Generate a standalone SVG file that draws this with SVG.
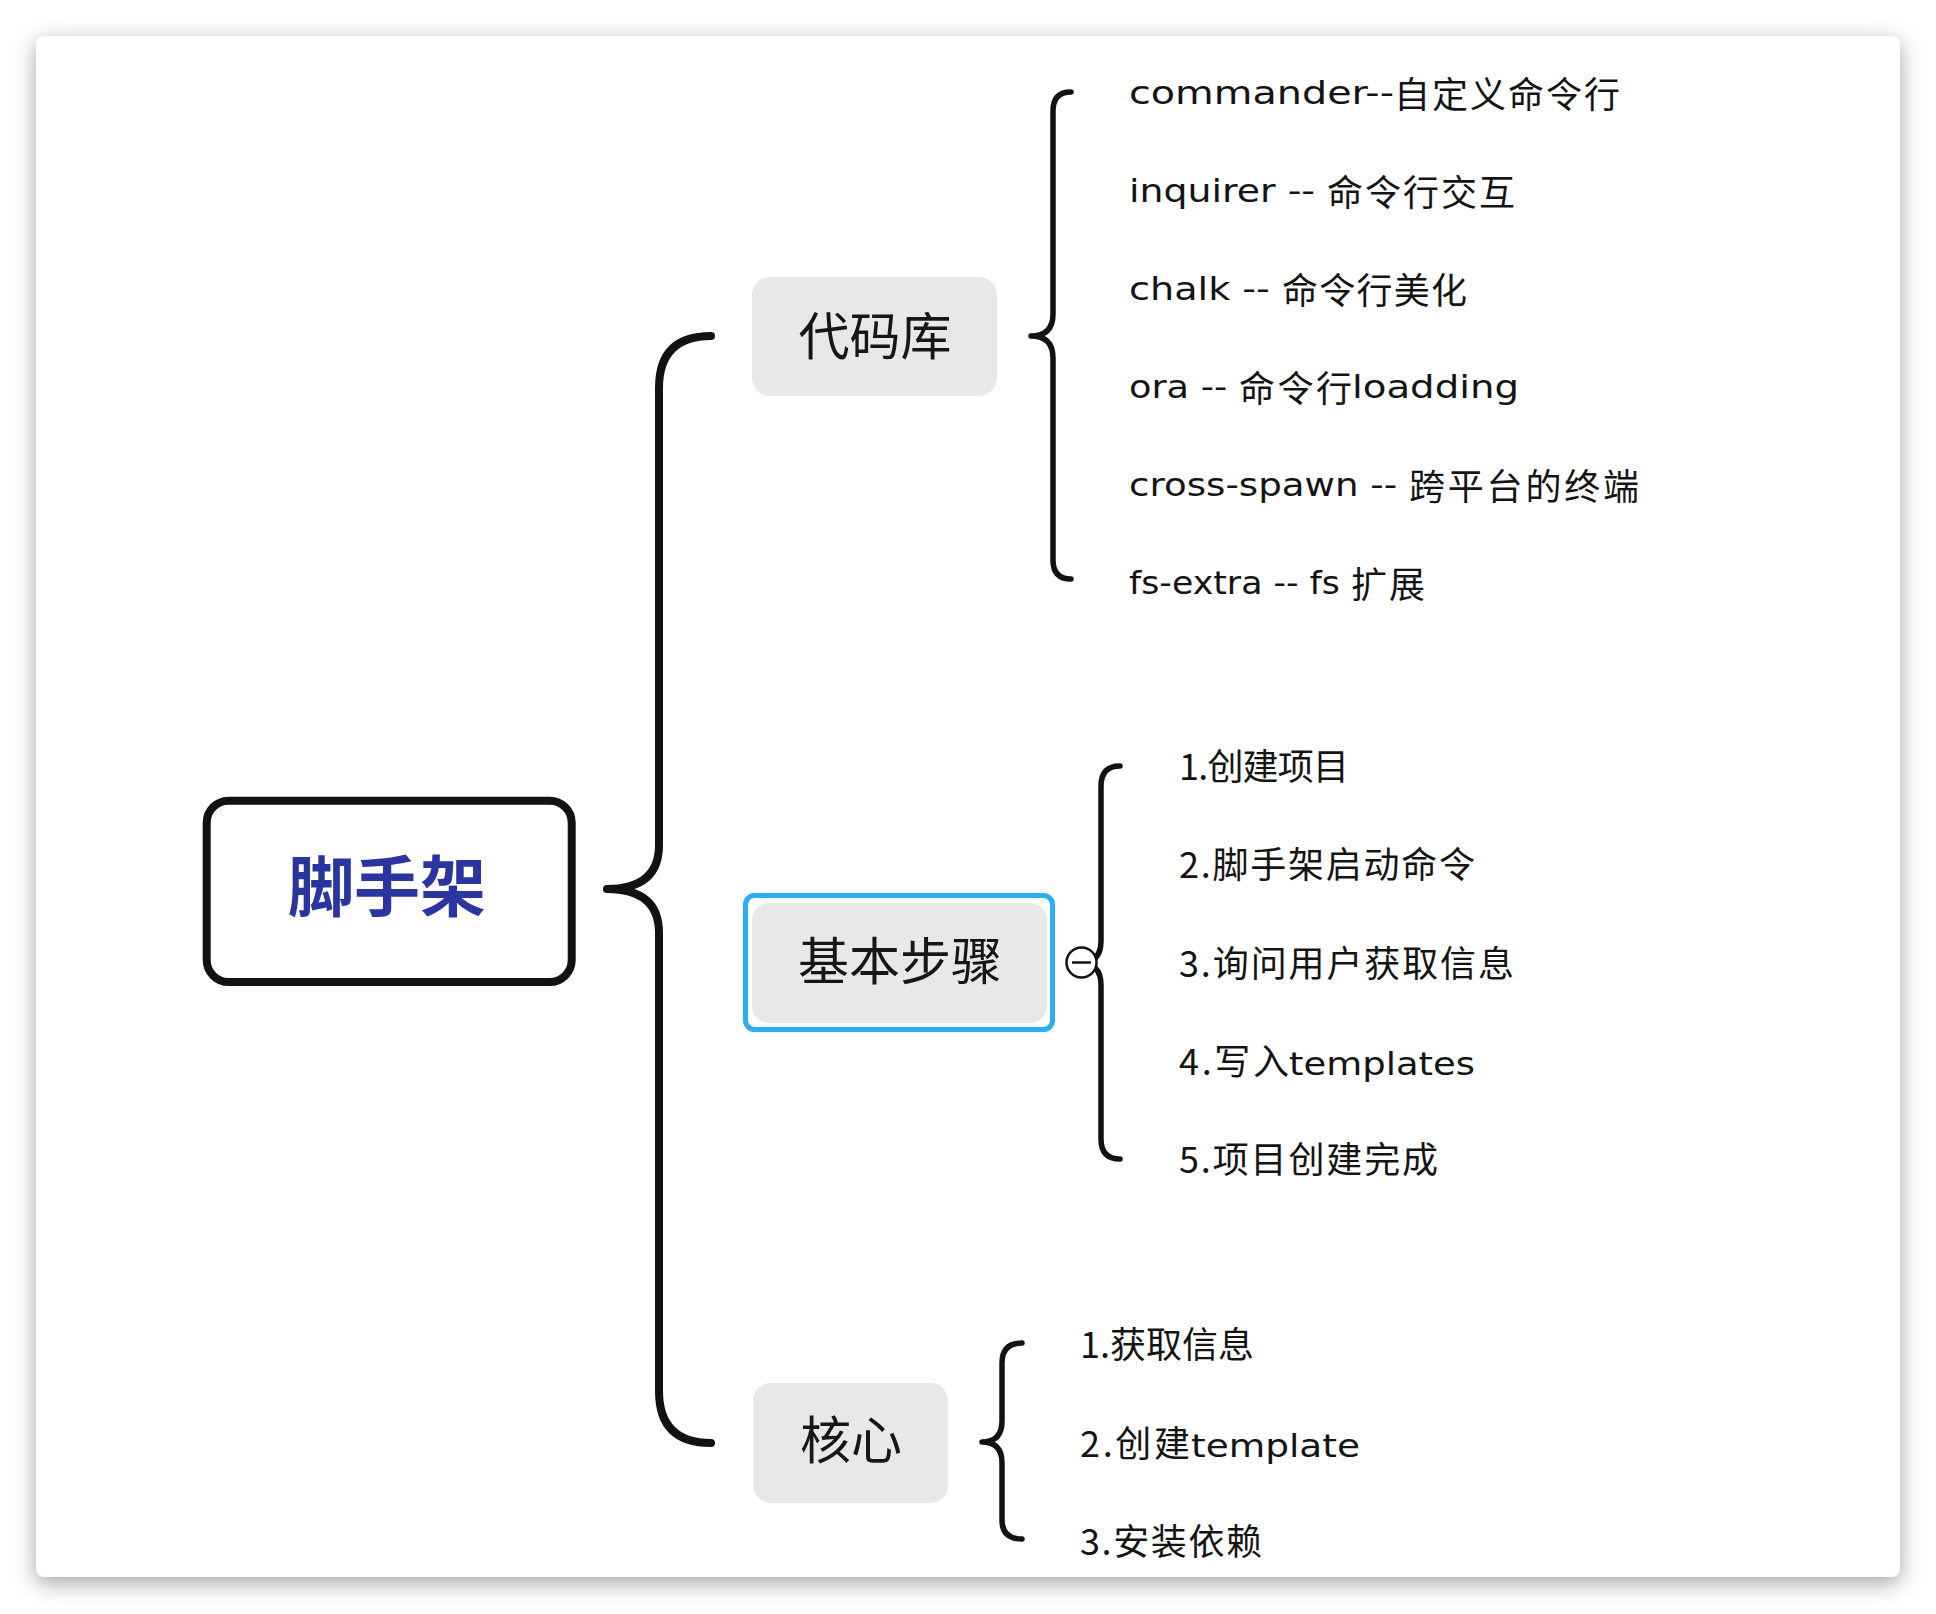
<svg xmlns="http://www.w3.org/2000/svg" width="1936" height="1614" viewBox="0 0 1936 1614">
  <defs>
    <filter id="cardShadow" x="-4%" y="-4%" width="108%" height="110%">
      <feDropShadow dx="0" dy="6" stdDeviation="11" flood-color="#000" flood-opacity="0.36"/>
    </filter>
  </defs>
  <style>
    .card{fill:#ffffff}
    .topic{fill:#e8e8e8}
    .brace{fill:none;stroke:#121212;stroke-linecap:round;stroke-linejoin:round}
    .main{stroke-width:8}
    .sub{stroke-width:5.5}
    .ttl{font-family:"Noto Sans CJK SC","Noto Sans",sans-serif;font-size:51px;fill:#161616;text-anchor:middle}
    .it{fill:#141414}
    .la{font-family:"DejaVu Sans","Noto Sans CJK SC",sans-serif;font-size:32px}
    .cj{font-family:"Noto Sans CJK SC","Noto Sans",sans-serif;font-size:36px}
  </style>

  <!-- page and card -->
  <rect x="0" y="0" width="1936" height="1614" fill="#ffffff"/>
  <rect class="card" x="36" y="36" width="1864" height="1541" rx="9" filter="url(#cardShadow)"/>

  <!-- connectors -->
  <g id="connectors">
    <path class="brace main" d="M 711 336 Q 659 336 659 388 L 659 845 Q 659 889 607 889 Q 659 889 659 933 L 659 1391 Q 659 1443 711 1443"/>
    <path class="brace sub" d="M 1071 92 Q 1053 92 1053 111 L 1053 314 Q 1053 336 1031 336 Q 1053 336 1053 358 L 1053 560 Q 1053 579 1071 579"/>
    <path class="brace sub" d="M 1120 766 Q 1101 766 1101 786 L 1101 941 Q 1101 963 1080 963 Q 1101 963 1101 985 L 1101 1139 Q 1101 1159 1120 1159"/>
    <path class="brace sub" d="M 1022 1343 Q 1002 1343 1002 1363 L 1002 1421 Q 1002 1442 982 1442 Q 1002 1442 1002 1463 L 1002 1520 Q 1002 1539 1022 1539"/>
  </g>

  <!-- central topic -->
  <g id="root">
    <rect x="206.7" y="800.7" width="365" height="181.3" rx="22" fill="#ffffff" stroke="#121212" stroke-width="8"/>
    <text x="387" y="911" font-family="'Noto Sans CJK SC','Noto Sans',sans-serif" font-size="66" font-weight="bold" fill="#2b35a0" text-anchor="middle">脚手架</text>
  </g>

  <!-- main topics -->
  <g id="topic-code">
    <rect class="topic" x="752" y="277" width="245" height="119" rx="18"/>
    <text class="ttl" x="875" y="355">代码库</text>
  </g>

  <g id="topic-steps">
    <rect x="745.5" y="895.5" width="307" height="134" rx="9" fill="none" stroke="#2daef4" stroke-width="5"/>
    <rect class="topic" x="752" y="903" width="295" height="120" rx="17"/>
    <text class="ttl" x="900" y="980">基本步骤</text>
    <g id="collapse-toggle">
      <circle cx="1081.5" cy="962.5" r="15" fill="#ffffff" stroke="#121212" stroke-width="2.5"/>
      <line x1="1072" y1="962.5" x2="1091" y2="962.5" stroke="#121212" stroke-width="2.5"/>
    </g>
  </g>

  <g id="topic-core">
    <rect class="topic" x="753" y="1383" width="195" height="120" rx="18"/>
    <text class="ttl" x="851" y="1459">核心</text>
  </g>

  <!-- libraries -->
  <g id="lib-commander">
    <text class="it" y="104"><tspan class="la" x="1129" textLength="265" lengthAdjust="spacingAndGlyphs">commander--</tspan><tspan class="cj" x="1394" dy="4" textLength="226" lengthAdjust="spacing">自定义命令行</tspan></text>
  </g>
  <g id="lib-inquirer">
    <text class="it" y="202"><tspan class="la" x="1129" textLength="198" lengthAdjust="spacingAndGlyphs">inquirer -- </tspan><tspan class="cj" x="1327" dy="4" textLength="188" lengthAdjust="spacing">命令行交互</tspan></text>
  </g>
  <g id="lib-chalk">
    <text class="it" y="300"><tspan class="la" x="1129" textLength="153" lengthAdjust="spacingAndGlyphs">chalk -- </tspan><tspan class="cj" x="1282" dy="4" textLength="185" lengthAdjust="spacing">命令行美化</tspan></text>
  </g>
  <g id="lib-ora">
    <text class="it" y="398"><tspan class="la" x="1129" textLength="110" lengthAdjust="spacingAndGlyphs">ora -- </tspan><tspan class="cj" x="1239" dy="4" textLength="113" lengthAdjust="spacing">命令行</tspan><tspan class="la" x="1352" dy="-4" textLength="167" lengthAdjust="spacingAndGlyphs">loadding</tspan></text>
  </g>
  <g id="lib-cross-spawn">
    <text class="it" y="496"><tspan class="la" x="1129" textLength="280" lengthAdjust="spacingAndGlyphs">cross-spawn -- </tspan><tspan class="cj" x="1409" dy="4" textLength="230" lengthAdjust="spacing">跨平台的终端</tspan></text>
  </g>
  <g id="lib-fs-extra">
    <text class="it" y="594"><tspan class="la" x="1129" textLength="222" lengthAdjust="spacingAndGlyphs">fs-extra -- fs </tspan><tspan class="cj" x="1351" dy="4" textLength="74" lengthAdjust="spacing">扩展</tspan></text>
  </g>

  <!-- steps -->
  <g id="step-1">
    <text class="it" y="780"><tspan class="cj" x="1179" textLength="170" lengthAdjust="spacing">1.创建项目</tspan></text>
  </g>
  <g id="step-2">
    <text class="it" y="878"><tspan class="cj" x="1179" textLength="296" lengthAdjust="spacing">2.脚手架启动命令</tspan></text>
  </g>
  <g id="step-3">
    <text class="it" y="977"><tspan class="cj" x="1179" textLength="335" lengthAdjust="spacing">3.询问用户获取信息</tspan></text>
  </g>
  <g id="step-4">
    <text class="it" y="1075"><tspan class="cj" x="1179" textLength="110" lengthAdjust="spacing">4.写入</tspan><tspan class="la" x="1289" textLength="186" lengthAdjust="spacingAndGlyphs">templates</tspan></text>
  </g>
  <g id="step-5">
    <text class="it" y="1173"><tspan class="cj" x="1179" textLength="259" lengthAdjust="spacing">5.项目创建完成</tspan></text>
  </g>

  <!-- core -->
  <g id="core-1">
    <text class="it" y="1358"><tspan class="cj" x="1080" textLength="174" lengthAdjust="spacing">1.获取信息</tspan></text>
  </g>
  <g id="core-2">
    <text class="it" y="1457"><tspan class="cj" x="1080" textLength="110" lengthAdjust="spacing">2.创建</tspan><tspan class="la" x="1191" textLength="169" lengthAdjust="spacingAndGlyphs">template</tspan></text>
  </g>
  <g id="core-3">
    <text class="it" y="1555"><tspan class="cj" x="1080" textLength="182" lengthAdjust="spacing">3.安装依赖</tspan></text>
  </g>
</svg>
